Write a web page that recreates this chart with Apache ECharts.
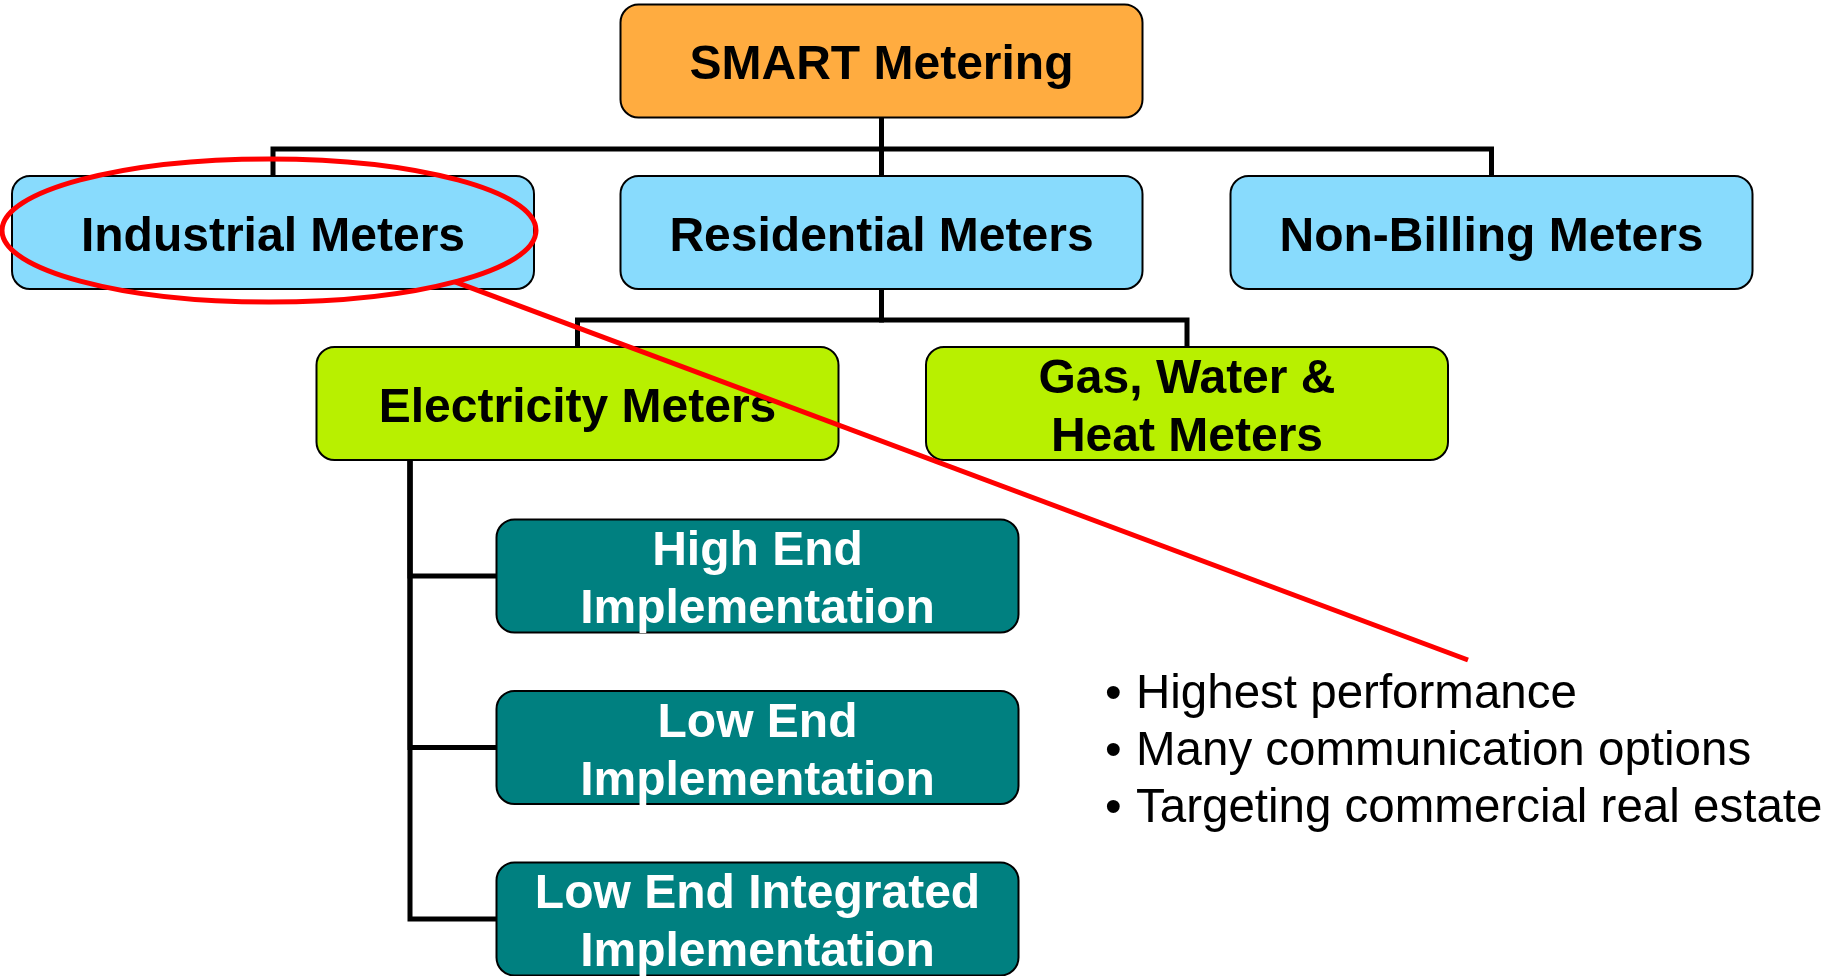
<!DOCTYPE html>
<html>
<head>
<meta charset="utf-8">
<script src="https://cdn.jsdelivr.net/npm/echarts@6/dist/echarts.min.js"></script>
<style>
html,body{margin:0;padding:0;background:#fff;}
#chart{width:1837px;height:976px;}
</style>
</head>
<body>
<div id="chart"></div>
<script>
// ---- data ----
const nodeNames = [
  'SMART Metering',
  'Industrial Meters',
  'Residential Meters',
  'Non-Billing Meters',
  'Electricity Meters',
  'Gas, Water &\nHeat Meters',
  'High End\nImplementation',
  'Low End\nImplementation',
  'Low End Integrated\nImplementation'
];
const nodeParents = [-1, 0, 0, 0, 2, 2, 4, 4, 4];
const nodeTiers = ['root', 'segment', 'segment', 'segment', 'type', 'type', 'impl', 'impl', 'impl'];
const bulletPoints = [
  'Highest performance',
  'Many communication options',
  'Targeting commercial real estate'
];
const calloutNode = 1;

// ---- layout & style (diagram units = axis units) ----
const layout = {
  box: { w: 522, h: 113, r: 18 },
  centers: [
    [881.5, 61], [273, 232.5], [881.5, 232.5], [1491.5, 232.5],
    [577.5, 403.5], [1187, 403.5],
    [757.5, 576], [757.5, 747.5], [757.5, 919]
  ],
  busY: { 0: 149, 2: 320 },
  railX: { 4: 410 },
  ellipse: { dx: -4, dy: -2, rx: 267, ry: 71.5 },
  calloutStartAngle: 0.80,
  calloutEnd: [1468, 660],
  bullets: { x: 1105, textX: 1136, y0: 695, step: 57 },
  labelShift: 5
};
const tierStyle = {
  root: { fill: '#FFAC40', text: '#000000' },
  segment: { fill: '#88DBFD', text: '#000000' },
  type: { fill: '#B8F000', text: '#000000' },
  impl: { fill: '#008080', text: '#FFFFFF' }
};
const FONT = '"Liberation Sans", Arial, Helvetica, sans-serif';

const chart = echarts.init(document.getElementById('chart'));

const nodeData = nodeNames.map((n, i) => [layout.centers[i][0], layout.centers[i][1], i]);
const edgeData = [];
nodeParents.forEach((p, i) => { if (p >= 0) edgeData.push([layout.centers[i][0], layout.centers[i][1], i, p]); });
const bulletData = bulletPoints.map((b, i) => [layout.bullets.textX, layout.bullets.y0 + i * layout.bullets.step, i]);

function renderEdge(params, api) {
  const c = api.value(2), p = api.value(3);
  const [cx, cy] = layout.centers[c];
  const [px, py] = layout.centers[p];
  const hw = layout.box.w / 2, hh = layout.box.h / 2;
  let pts;
  if (layout.railX[p] !== undefined) {
    const rx = layout.railX[p];
    pts = [[rx, py + hh], [rx, cy], [cx - hw, cy]];
  } else {
    const by = layout.busY[p];
    pts = [[px, py + hh], [px, by], [cx, by], [cx, cy - hh]];
  }
  return {
    type: 'polyline',
    shape: { points: pts.map(q => api.coord(q)) },
    style: { stroke: '#000', lineWidth: 5, fill: null, lineJoin: 'miter', lineCap: 'square' }
  };
}

function renderNode(params, api) {
  const i = api.value(2);
  const [cx, cy] = layout.centers[i];
  const hw = layout.box.w / 2, hh = layout.box.h / 2;
  const tl = api.coord([cx - hw, cy - hh]);
  const br = api.coord([cx + hw, cy + hh]);
  const ctr = api.coord([cx, cy + layout.labelShift]);
  const st = tierStyle[nodeTiers[i]];
  return {
    type: 'group',
    children: [
      {
        type: 'rect',
        shape: { x: tl[0], y: tl[1], width: br[0] - tl[0], height: br[1] - tl[1], r: layout.box.r },
        style: { fill: st.fill, stroke: '#000', lineWidth: 2 }
      },
      {
        type: 'text',
        x: ctr[0], y: ctr[1],
        style: {
          text: nodeNames[i], fill: st.text,
          fontFamily: FONT, fontWeight: 'bold', fontSize: 48, lineHeight: 58,
          align: 'center', verticalAlign: 'middle'
        }
      }
    ]
  };
}

function renderCallout(params, api) {
  const i = api.value(2);
  const [cx, cy] = layout.centers[i];
  const e = layout.ellipse;
  const ec = api.coord([cx + e.dx, cy + e.dy]);
  const ang = layout.calloutStartAngle;
  const s = api.coord([cx + e.dx + e.rx * Math.cos(ang), cy + e.dy + e.ry * Math.sin(ang)]);
  const t = api.coord(layout.calloutEnd);
  return {
    type: 'group',
    children: [
      { type: 'ellipse', shape: { cx: ec[0], cy: ec[1], rx: e.rx, ry: e.ry },
        style: { fill: null, stroke: '#FF0000', lineWidth: 5 } },
      { type: 'line', shape: { x1: s[0], y1: s[1], x2: t[0], y2: t[1] },
        style: { stroke: '#FF0000', lineWidth: 5 } }
    ]
  };
}

function renderBullet(params, api) {
  const i = api.value(2);
  const y = layout.bullets.y0 + i * layout.bullets.step;
  const b = api.coord([layout.bullets.x, y]);
  const t = api.coord([layout.bullets.textX, y]);
  const common = { fill: '#000', fontFamily: FONT, fontSize: 47.5, verticalAlign: 'middle', align: 'left' };
  return {
    type: 'group',
    children: [
      { type: 'text', x: b[0], y: b[1], style: Object.assign({ text: '\u2022' }, common) },
      { type: 'text', x: t[0], y: t[1], style: Object.assign({ text: bulletPoints[i] }, common) }
    ]
  };
}

chart.setOption({
  backgroundColor: '#ffffff',
  animation: false,
  grid: { left: 0, right: 0, top: 0, bottom: 0 },
  xAxis: { type: 'value', min: 0, max: 1837, show: false },
  yAxis: { type: 'value', min: 0, max: 976, inverse: true, show: false },
  series: [
    { type: 'custom', name: 'edges', data: edgeData, renderItem: renderEdge, z: 1, silent: true },
    { type: 'custom', name: 'nodes', data: nodeData, renderItem: renderNode, z: 2, silent: true },
    { type: 'custom', name: 'bullets', data: bulletData, renderItem: renderBullet, z: 3, silent: true },
    { type: 'custom', name: 'callout', data: [[layout.centers[calloutNode][0], layout.centers[calloutNode][1], calloutNode]], renderItem: renderCallout, z: 4, silent: true }
  ]
});
</script>
</body>
</html>
